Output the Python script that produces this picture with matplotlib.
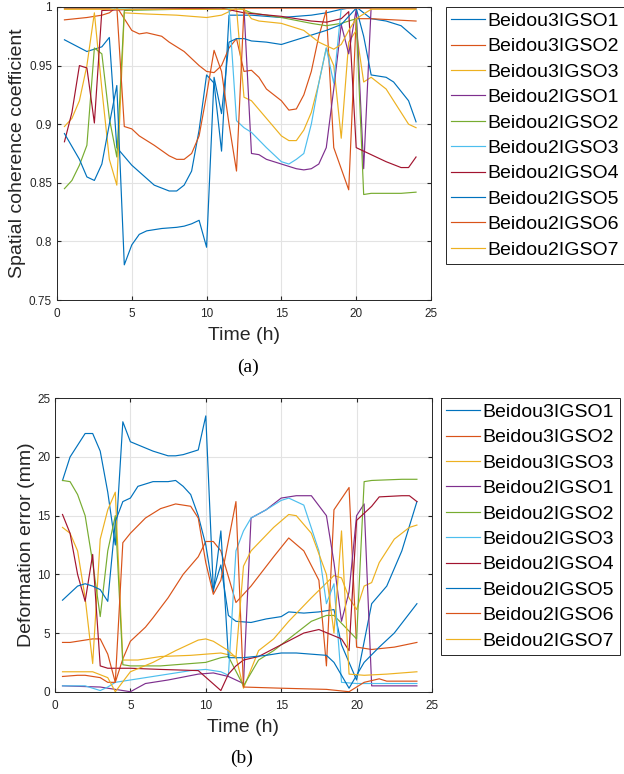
import numpy as np
import matplotlib.pyplot as plt

plt.rcParams['font.family'] = ['Liberation Sans', 'DejaVu Sans']

names = ['Beidou3IGSO1', 'Beidou3IGSO2', 'Beidou3IGSO3', 'Beidou2IGSO1', 'Beidou2IGSO2',
         'Beidou2IGSO3', 'Beidou2IGSO4', 'Beidou2IGSO5', 'Beidou2IGSO6', 'Beidou2IGSO7']
colors = ['#0072BD', '#D95319', '#EDB120', '#7E2F8E', '#77AC30',
          '#4DBEEE', '#A2142F', '#0072BD', '#D95319', '#EDB120']

# (a) spatial coherence coefficient, values read at the time points (h)
coh_t = [
    [0.5, 2, 3, 3.5, 4, 5, 6.5, 7.5, 8, 8.5, 9, 9.5, 10, 10.5, 11, 11.5, 13, 15, 17, 18, 19, 20, 21, 22, 23, 24],
    [0.5, 2, 3, 3.5, 4, 5, 5.5, 6, 7, 7.5, 8.5, 9.5, 10, 10.5, 11, 11.5, 12, 12.5, 13, 13.5, 14, 15, 15.5, 16, 16.5, 17, 17.5, 18, 18.5, 19, 19.5, 20, 21, 24],
    [0.5, 1, 1.5, 2, 2.5, 3, 3.5, 4, 4.5, 6, 8, 10, 11, 11.5, 12, 12.5, 13, 14, 15, 15.5, 16, 16.5, 17, 17.5, 18, 18.5, 19, 19.5, 20, 20.5, 21, 22, 23, 23.5, 24],
    [0.5, 5, 10, 12.5, 13, 13.5, 14, 15, 16, 16.5, 17, 17.5, 18, 18.5, 19, 19.5, 20, 20.5, 21, 24],
    [0.5, 1, 1.5, 2, 2.5, 3, 3.5, 4, 4.5, 8, 11, 12, 13, 15, 17, 18, 19, 20, 20.5, 21, 23, 24],
    [0.5, 6, 11, 11.5, 12, 12.5, 13, 14, 15, 15.5, 16, 16.5, 17, 17.5, 18, 18.5, 19, 20, 24],
    [0.5, 1, 1.5, 2, 2.5, 3, 5, 11, 12.5, 15, 17, 18, 19, 19.5, 20, 20.5, 21, 22, 23, 23.5, 24],
    [0.5, 1.5, 2, 2.5, 3, 3.5, 4, 4.5, 5, 5.5, 6, 7, 8, 8.5, 9, 9.5, 10, 10.5, 11, 11.5, 12, 12.5, 13, 14, 15, 16, 17, 18, 19, 20, 20.5, 21, 22, 22.5, 23.5, 24],
    [0.5, 3.5, 4, 4.5, 5, 5.5, 6.5, 7.5, 8, 8.5, 9, 9.5, 10, 10.5, 11, 11.5, 12, 12.5, 18, 24],
    [0.5, 6, 12.5, 13, 13.5, 15, 16.5, 17.5, 18.5, 19, 19.5, 20, 21, 24],
]
coh_v = [
    [0.972, 0.962, 0.966, 0.974, 0.88, 0.865, 0.848, 0.843, 0.843, 0.848, 0.86, 0.895, 0.942, 0.935, 0.877, 0.993, 0.993, 0.991, 0.993, 0.995, 0.998, 1.0, 0.99, 0.988, 0.984, 0.973],
    [0.989, 0.991, 0.993, 0.995, 1.0, 0.98, 0.977, 0.978, 0.975, 0.97, 0.962, 0.95, 0.945, 0.944, 0.95, 0.965, 0.973, 0.945, 0.946, 0.94, 0.93, 0.92, 0.912, 0.913, 0.925, 0.945, 0.975, 0.997, 0.88, 0.862, 0.844, 0.99, 0.99, 0.988],
    [0.898, 0.905, 0.92, 0.95, 0.995, 0.93, 0.87, 0.848, 0.995, 0.994, 0.993, 0.991, 0.993, 0.996, 0.999, 0.923, 0.92, 0.905, 0.89, 0.886, 0.886, 0.895, 0.91, 0.935, 0.965, 0.95, 0.888, 0.97, 0.98, 0.936, 0.94, 0.93, 0.91, 0.9, 0.897],
    [1.0, 1.0, 1.0, 0.999, 0.875, 0.874, 0.87, 0.866, 0.862, 0.861, 0.862, 0.866, 0.88, 0.93, 0.985, 0.96, 0.998, 0.862, 1.0, 1.0],
    [0.845, 0.852, 0.865, 0.882, 0.965, 0.96, 0.905, 0.872, 0.997, 0.998, 0.998, 1.0, 0.995, 0.991, 0.986, 0.984, 0.986, 0.99, 0.84, 0.841, 0.841, 0.842],
    [0.999, 0.999, 0.999, 0.999, 0.903, 0.897, 0.893, 0.88, 0.868, 0.866, 0.87, 0.875, 0.9, 0.935, 0.965, 0.935, 0.999, 0.999, 0.999],
    [0.885, 0.91, 0.95, 0.948, 0.901, 0.997, 0.998, 0.999, 0.995, 0.992, 0.988, 0.987, 0.99, 0.996, 0.88, 0.877, 0.874, 0.868, 0.863, 0.863, 0.872],
    [0.892, 0.87, 0.855, 0.852, 0.866, 0.9, 0.933, 0.78, 0.797, 0.806, 0.809, 0.811, 0.812, 0.813, 0.815, 0.818, 0.795, 0.94, 0.909, 0.97, 0.973, 0.973, 0.971, 0.97, 0.968, 0.972, 0.976, 0.98, 0.985, 0.999, 0.975, 0.942, 0.94, 0.936, 0.92, 0.902],
    [0.999, 0.999, 1.0, 0.898, 0.896, 0.89, 0.882, 0.873, 0.87, 0.87, 0.875, 0.89, 0.925, 0.963, 0.945, 0.9, 0.86, 0.999, 0.999, 0.999],
    [0.998, 0.998, 0.998, 0.99, 0.988, 0.986, 0.98, 0.97, 0.964, 0.968, 0.98, 0.99, 0.998, 0.998],
]

# (b) deformation error (mm)
err_t = [
    [0.5, 1, 2, 2.5, 3, 3.5, 4, 4.5, 5, 6.5, 7.5, 8, 8.5, 9.5, 10, 10.5, 11, 11.5, 12, 13, 14, 15, 15.5, 16.5, 17.5, 18.5, 19, 20, 21, 22, 23, 24],
    [0.5, 1, 2, 2.5, 3, 3.5, 4, 4.5, 5, 6, 6.5, 7.5, 8.5, 9.5, 10, 10.5, 11, 12, 13, 14.5, 15.5, 16.5, 17.5, 18, 18.5, 19.5, 20, 21, 22.5, 24],
    [0.5, 1, 1.5, 2, 2.5, 3, 3.5, 4, 4.5, 5.5, 7, 9, 10, 11, 12, 12.5, 13.5, 14.5, 15.5, 17, 18.5, 19, 19.5, 20, 20.5, 21, 21.5, 22.5, 23.5, 24],
    [0.5, 3, 5, 6, 7.5, 9.5, 10.5, 11.5, 12.5, 13, 14, 15, 16, 17, 18, 18.5, 19, 19.5, 20, 20.5, 21, 24],
    [0.5, 1, 1.5, 2, 2.5, 3, 3.5, 4, 4.5, 5, 7, 9, 10, 11, 11.5, 12.5, 13.5, 14.5, 15.5, 17, 18, 18.5, 20, 20.5, 21, 23, 24],
    [0.5, 2, 3, 3.5, 4, 5, 6.5, 9, 10, 11, 11.5, 12, 12.5, 13, 14, 15, 15.5, 16.5, 17.5, 18, 18.5, 19, 20, 24],
    [0.5, 1, 1.5, 2, 2.5, 3, 3.5, 5, 7, 9.5, 11, 11.5, 12, 12.5, 13.5, 15, 16.5, 17.5, 19, 19.5, 20, 20.5, 21, 21.5, 23, 23.5, 24],
    [0.5, 1.5, 2, 2.5, 3, 3.5, 4, 4.5, 5, 5.5, 6.5, 7.5, 8, 8.5, 9, 9.5, 10, 10.5, 11, 11.5, 12.5, 14, 15, 16, 17, 18, 18.5, 19.5, 20.5, 21.5, 22.5, 24],
    [0.5, 1.5, 2, 3, 3.5, 4, 4.5, 5, 6, 7, 8, 9, 9.5, 10, 10.5, 11, 12, 12.5, 15, 18, 19.5, 20.5, 21.5, 22, 24],
    [0.5, 2.5, 3.5, 4, 5, 6.5, 8, 9.5, 10, 10.5, 11.5, 12, 12.5, 13, 14.5, 15.5, 16, 17, 18, 18.5, 19, 19.5, 20.5, 22, 24],
]
err_v = [
    [18.0, 20.0, 22.0, 22.0, 20.5, 17.0, 12.5, 23.0, 21.3, 20.5, 20.1, 20.1, 20.2, 20.6, 23.5, 8.7, 10.8, 6.5, 6.0, 5.9, 6.2, 6.4, 6.8, 6.7, 6.8, 7.0, 4.0, 1.0, 7.5, 9.0, 12.0, 16.2],
    [4.2, 4.2, 4.4, 4.5, 4.5, 3.2, 0.8, 2.8, 4.3, 5.5, 6.3, 8.0, 10.0, 11.5, 12.8, 12.8, 12.0, 7.6, 9.0, 11.5, 13.1, 12.0, 9.5, 2.2, 15.5, 17.4, 3.8, 3.6, 3.8, 4.2],
    [14.0, 13.5, 12.0, 8.0, 2.4, 13.0, 15.5, 17.0, 2.7, 2.7, 3.0, 3.1, 3.2, 3.3, 3.0, 0.3, 3.5, 4.5, 6.0, 8.0, 9.9, 9.7, 8.0, 7.0, 9.0, 9.3, 11.0, 13.0, 14.0, 14.2],
    [0.5, 0.4, 0.0, 0.7, 1.0, 1.5, 1.6, 1.3, 0.7, 14.8, 15.5, 16.5, 16.7, 16.7, 15.0, 11.0, 6.0, 8.5, 15.0, 16.0, 0.5, 0.5],
    [18.0, 17.9, 16.8, 15.0, 11.0, 6.4, 12.0, 15.0, 2.3, 2.2, 2.2, 2.4, 2.5, 2.9, 3.0, 0.5, 2.7, 3.5, 4.5, 6.0, 6.5, 6.5, 4.5, 17.9, 18.0, 18.1, 18.1],
    [0.5, 0.5, 0.1, 0.4, 0.8, 1.0, 1.3, 1.8, 1.9, 1.7, 1.4, 12.0, 13.7, 14.8, 15.5, 16.3, 16.5, 15.9, 12.0, 7.5, 9.2, 0.8, 0.7, 0.7],
    [15.1, 13.5, 10.0, 7.7, 11.7, 2.2, 2.0, 2.0, 1.9, 1.8, 0.1, 1.5, 2.2, 2.7, 3.0, 4.0, 5.0, 5.3, 4.5, 3.5, 14.6, 15.2, 15.8, 16.6, 16.7, 16.7, 16.2],
    [7.8, 9.0, 9.2, 9.0, 8.7, 7.7, 14.5, 16.2, 16.5, 17.5, 17.9, 17.9, 18.0, 17.5, 16.8, 15.0, 12.5, 8.5, 13.7, 2.9, 2.9, 3.1, 3.3, 3.3, 3.2, 3.1, 2.5, 0.3, 2.5, 3.8, 5.0, 7.5],
    [1.3, 1.4, 1.4, 1.2, 0.8, 0.8, 12.7, 13.5, 14.8, 15.6, 16.0, 15.8, 14.8, 11.0, 8.3, 9.5, 16.2, 0.4, 0.3, 0.2, 0.0, 0.8, 1.1, 0.9, 0.9],
    [1.7, 1.7, 1.2, 0.0, 1.7, 2.5, 3.5, 4.4, 4.5, 4.3, 3.5, 2.9, 10.7, 12.0, 14.0, 15.1, 15.0, 13.5, 10.0, 5.0, 13.7, 1.5, 1.4, 1.5, 1.7],
]

fig = plt.figure(figsize=(6.24, 7.74), dpi=100)
ax1 = fig.add_axes([0.0913, 0.6124, 0.5994, 0.3786])
ax2 = fig.add_axes([0.0881, 0.1063, 0.6042, 0.3791])

for ax, ts, vs in [(ax1, coh_t, coh_v), (ax2, err_t, err_v)]:
    for t, v, c, n in zip(ts, vs, colors, names):
        ax.plot(t, v, color=c, lw=0.85, label=n)
    ax.set_xlim(0, 25)
    ax.set_xticks([0, 5, 10, 15, 20, 25])
    ax.grid(True, color='#e3e3e3', lw=0.8)
    ax.set_axisbelow(True)
    ax.tick_params(direction='in', top=True, right=True, labelsize=8.5,
                   colors='#262626', length=3)
    ax.tick_params(axis='x', pad=6)
    for s in ax.spines.values():
        s.set_color('#262626')
        s.set_linewidth(0.7)
    ax.set_xlabel('Time (h)', fontsize=14, color='#262626', labelpad=5)

ax1.set_ylim(0.75, 1)
ax1.set_yticks([0.75, 0.8, 0.85, 0.9, 0.95, 1])
ax1.set_yticklabels(['0.75', '0.8', '0.85', '0.9', '0.95', '1'])
ax1.set_ylabel('Spatial coherence coefficient', fontsize=14, color='#262626', labelpad=2)
ax2.set_ylim(0, 25)
ax2.set_yticks([0, 5, 10, 15, 20, 25])
ax2.set_ylabel('Deformation error (mm)', fontsize=14, color='#262626', labelpad=1)

leg_kw = dict(loc='upper left', fontsize=14, handlelength=1.75, handletextpad=0.12,
              labelspacing=0.4, borderpad=0.28, borderaxespad=0, fancybox=False,
              framealpha=1, edgecolor='#262626')
l1 = ax1.legend(bbox_to_anchor=(446 / 624, 1 - 7 / 774), bbox_transform=fig.transFigure, **leg_kw)
l2 = ax2.legend(bbox_to_anchor=(441 / 624, 1 - 398 / 774), bbox_transform=fig.transFigure, **leg_kw)
for l in (l1, l2):
    l.get_frame().set_linewidth(0.7)

fig.text(248 / 624, 1 - 367 / 774, '(a)', ha='center', va='center', fontsize=14,
         family=['Liberation Serif', 'DejaVu Serif'])
fig.text(242 / 624, 1 - 758 / 774, '(b)', ha='center', va='center', fontsize=14,
         family=['Liberation Serif', 'DejaVu Serif'])

fig.savefig('out.png', dpi=100)
